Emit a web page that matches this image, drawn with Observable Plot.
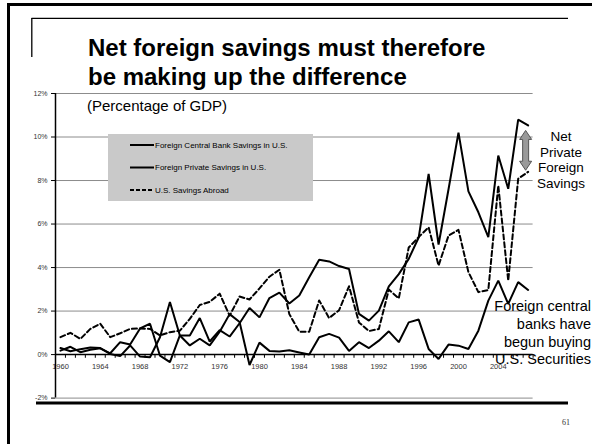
<!DOCTYPE html>
<html>
<head>
<meta charset="utf-8">
<script src="https://cdn.jsdelivr.net/npm/d3@7"></script>
<script src="https://cdn.jsdelivr.net/npm/@observablehq/plot@0.6"></script>
<style>
  html, body { margin: 0; padding: 0; background: #fff; }
  svg { display: block; }
</style>
</head>
<body>
<div id="chart"></div>
<script>
// ---- Data (percent of GDP) ----
const years = [1960,1961,1962,1963,1964,1965,1966,1967,1968,1969,
               1970,1971,1972,1973,1974,1975,1976,1977,1978,1979,
               1980,1981,1982,1983,1984,1985,1986,1987,1988,1989,
               1990,1991,1992,1993,1994,1995,1996,1997,1998,1999,
               2000,2001,2002,2003,2004,2005,2006,2007];
const centralBank = [0.30,0.15,0.25,0.33,0.30,0.03,-0.07,0.42,-0.09,-0.12,
                     0.80,2.42,0.88,0.42,0.73,0.42,1.05,1.86,1.50,-0.48,
                     0.55,0.17,0.14,0.20,0.10,0.00,0.80,0.95,0.78,0.17,
                     0.57,0.30,0.64,1.07,0.57,1.48,1.61,0.26,-0.20,0.46,
                     0.41,0.26,1.10,2.48,3.40,2.33,3.33,2.97];
const privateSav = [0.18,0.36,0.11,0.22,0.29,0.06,0.57,0.46,1.20,1.42,
                    -0.05,-0.35,0.88,0.88,1.68,0.60,1.12,0.83,1.44,2.14,
                    1.71,2.60,2.85,2.35,2.72,3.55,4.36,4.28,4.07,3.93,
                    1.87,1.56,2.02,3.14,3.70,4.40,5.38,8.30,5.06,7.60,
                    10.20,7.50,6.54,5.40,9.15,7.62,10.80,10.53];
const abroad = [0.80,1.00,0.72,1.18,1.42,0.80,0.98,1.18,1.20,1.18,
                0.88,1.03,1.10,1.64,2.28,2.42,2.80,1.79,2.67,2.53,
                3.04,3.58,3.90,1.86,1.05,1.05,2.49,1.68,2.04,3.14,
                1.48,1.08,1.18,2.99,2.58,4.92,5.40,5.85,4.09,5.47,
                5.73,3.79,2.87,2.97,7.77,3.40,8.08,8.40];
const seriesNames = ["Foreign Central Bank Savings in U.S.", "Foreign Private Savings in U.S.", "U.S. Savings Abroad"];
const yTicks = [-2, 0, 2, 4, 6, 8, 10, 12];
const xLabels = ["1960","1964","1968","1972","1976","1980","1984","1988","1992","1996","2000","2004"];

// tables built from the arrays
const rows = (vals) => years.map((yr, i) => ({year: yr, value: vals[i]}));
const boundaries = years.map(y => y - 0.5).concat([years[years.length - 1] + 0.5]);

const font = "'Liberation Sans', Arial, Helvetica, sans-serif";
const W = 592, H = 444;

const chart = Plot.plot({
  width: W, height: H,
  marginLeft: 55, marginRight: 59.4, marginTop: 93, marginBottom: 46.4,
  x: {domain: [years[0] - 0.5, years[years.length - 1] + 0.5], axis: null},
  y: {domain: [-2, 12], axis: null},
  style: {fontFamily: font, background: "#fff", overflow: "visible"},
  marks: [
    // gridlines
    Plot.ruleY(yTicks.filter(d => d !== 0), {stroke: "#8c8c8c", strokeWidth: 1}),
    // y tick marks
    Plot.ruleY(yTicks, {x1: years[0] - 0.5, x2: years[0] - 0.9, stroke: "#000", strokeWidth: 1}),
    // y labels
    Plot.text(yTicks, {x: years[0] - 0.5, y: d => d, text: d => d + "%", textAnchor: "end", dx: -8, fontSize: 7, fill: "#333"}),
    // x tick marks
    Plot.ruleX(boundaries, {y1: 0, y2: -0.17, stroke: "#000", strokeWidth: 1}),
    // x labels
    Plot.text(xLabels, {x: d => +d, y: 0, dy: 12, fontSize: 7.5, fill: "#333"}),
    // series
    Plot.line(rows(centralBank), {x: "year", y: "value", stroke: "#000", strokeWidth: 2, strokeLinejoin: "miter"}),
    Plot.line(rows(privateSav), {x: "year", y: "value", stroke: "#000", strokeWidth: 2, strokeLinejoin: "miter"}),
    Plot.line(rows(abroad), {x: "year", y: "value", stroke: "#000", strokeWidth: 2, strokeDasharray: "5,3"}),
    // axes lines
    Plot.ruleY([0], {stroke: "#000", strokeWidth: 1.5}),
    Plot.ruleX([years[0] - 0.5], {stroke: "#000", strokeWidth: 1.5})
  ]
});

document.getElementById("chart").appendChild(chart);

const svg = d3.select(chart);
const sx = chart.scale("x"), sy = chart.scale("y");

// slide frame
const g = svg.append("g").attr("font-family", font).attr("text-anchor", "start");
g.append("line").attr("x1", 8.5).attr("y1", 4.5).attr("x2", 592).attr("y2", 4.5).attr("stroke", "#000").attr("stroke-width", 3);
g.append("line").attr("x1", 8.5).attr("y1", 3).attr("x2", 8.5).attr("y2", 444).attr("stroke", "#000").attr("stroke-width", 3);
g.append("line").attr("x1", 31.5).attr("y1", 18.3).attr("x2", 568).attr("y2", 18.3).attr("stroke", "#000").attr("stroke-width", 1.3);
g.append("line").attr("x1", 31.8).attr("y1", 18).attr("x2", 31.8).attr("y2", 57).attr("stroke", "#000").attr("stroke-width", 1.3);
g.append("line").attr("x1", 36).attr("y1", 403).attr("x2", 568).attr("y2", 403).attr("stroke", "#000").attr("stroke-width", 3);

// title & subtitle
g.append("text").attr("x", 88).attr("y", 56).attr("font-size", 24).attr("font-weight", "bold").attr("fill", "#000")
  .attr("text-anchor", "start").text("Net foreign savings must therefore");
g.append("text").attr("x", 88).attr("y", 85).attr("font-size", 24).attr("font-weight", "bold").attr("fill", "#000")
  .attr("text-anchor", "start").text("be making up the difference");
g.append("text").attr("x", 87).attr("y", 111).attr("font-size", 15).attr("fill", "#000")
  .attr("text-anchor", "start").text("(Percentage of GDP)");

// legend
const lg = g.append("g");
lg.append("rect").attr("x", 108).attr("y", 134).attr("width", 205).attr("height", 67).attr("fill", "#c9c9c9");
seriesNames.forEach((name, i) => {
  const yy = 145 + i * 22.5;
  lg.append("line").attr("x1", 130).attr("x2", 154).attr("y1", yy).attr("y2", yy)
    .attr("stroke", "#000").attr("stroke-width", 2).attr("stroke-dasharray", i === 2 ? "4,2" : null);
  lg.append("text").attr("x", 155).attr("y", yy).attr("dy", "0.35em").attr("font-size", 8).attr("fill", "#000")
    .attr("text-anchor", "start").text(name);
});

// arrow (Net Private Foreign Savings)
const ax = sx.apply(2006.8), at = sy.apply(10.28), ab = sy.apply(8.45);
const hw = 6, sw = 3, hl = 9;
const path = `M${ax},${at} L${ax+hw},${at+hl} L${ax+sw},${at+hl} L${ax+sw},${ab-hl} L${ax+hw},${ab-hl} L${ax},${ab} L${ax-hw},${ab-hl} L${ax-sw},${ab-hl} L${ax-sw},${at+hl} L${ax-hw},${at+hl} Z`;
g.append("path").attr("d", path).attr("fill", "#9a9a9a").attr("stroke", "#555").attr("stroke-width", 1);

["Net", "Private", "Foreign", "Savings"].forEach((t, i) => {
  g.append("text").attr("x", 561).attr("y", 141 + i * 15.6).attr("font-size", 13.5).attr("text-anchor", "middle").attr("fill", "#000").text(t);
});

["Foreign central", "banks have", "begun buying", "U.S. Securities"].forEach((t, i) => {
  g.append("text").attr("x", 591).attr("y", 311 + i * 17.8).attr("font-size", 14.5).attr("text-anchor", "end").attr("fill", "#000").text(t);
});

// page number
g.append("text").attr("x", 566).attr("y", 425).attr("font-size", 8).attr("text-anchor", "middle")
  .attr("font-family", "'Liberation Serif', 'DejaVu Serif', serif").attr("fill", "#333").text("61");
</script>
</body>
</html>
